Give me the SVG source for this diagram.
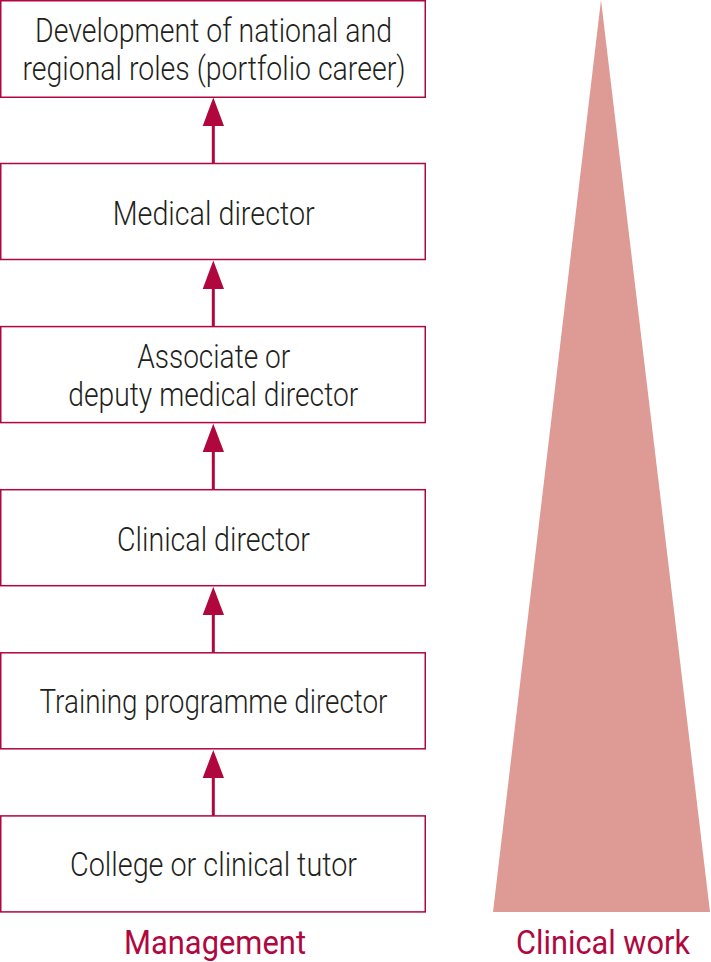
<svg xmlns="http://www.w3.org/2000/svg" width="711" height="962" viewBox="0 0 711 962">
<style>
.box{fill:#fff;stroke:#B0073F;stroke-width:1.5}
.t{font-family:Roboto,"Liberation Sans Narrow",sans-serif;font-weight:300;font-size:34px;fill:#231F20;text-anchor:middle}
.lab{font-family:Roboto,"Liberation Sans Narrow",sans-serif;font-weight:400;font-size:33px;fill:#B0073F;text-anchor:middle}
.ln{stroke:#B0073F;stroke-width:3;fill:none}
.ah{fill:#B0073F}
</style>
<rect width="711" height="962" fill="#fff"/>
<polygon id="clinical-triangle" points="601,0 710,912 493,912" fill="#DE9A95"/>
<g id="connectors">
<line class="ln" x1="213.3" y1="163.5" x2="213.3" y2="124"/>
<polygon class="ah" points="213.3,97.5 224,126 202.7,126"/>
<line class="ln" x1="213.3" y1="326.6" x2="213.3" y2="287"/>
<polygon class="ah" points="213.3,260.6 224,289 202.7,289"/>
<line class="ln" x1="213.3" y1="489.7" x2="213.3" y2="450"/>
<polygon class="ah" points="213.3,423.7 224,452 202.7,452"/>
<line class="ln" x1="213.3" y1="652.8" x2="213.3" y2="613"/>
<polygon class="ah" points="213.3,586.8 224,615 202.7,615"/>
<line class="ln" x1="213.3" y1="815.9" x2="213.3" y2="776"/>
<polygon class="ah" points="213.3,749.9 224,778 202.7,778"/>
</g>
<g id="node-development">
<rect class="box" x="0.75" y="0.75" width="424.5" height="96.5"/>
<text class="t" x="213.5" y="41.7" textLength="357" lengthAdjust="spacingAndGlyphs">Development of national and</text>
<text class="t" x="214" y="80" textLength="383" lengthAdjust="spacingAndGlyphs">regional roles (portfolio career)</text>
</g>
<g id="node-medical-director">
<rect class="box" x="0.75" y="163.5" width="424.5" height="96"/>
<text class="t" x="213.7" y="225" textLength="202" lengthAdjust="spacingAndGlyphs">Medical director</text>
</g>
<g id="node-associate">
<rect class="box" x="0.75" y="326.6" width="424.5" height="96"/>
<text class="t" x="213.7" y="367.7" textLength="153" lengthAdjust="spacingAndGlyphs">Associate or</text>
<text class="t" x="213.3" y="406" textLength="290" lengthAdjust="spacingAndGlyphs">deputy medical director</text>
</g>
<g id="node-clinical-director">
<rect class="box" x="0.75" y="489.7" width="424.5" height="96"/>
<text class="t" x="213.5" y="551" textLength="193" lengthAdjust="spacingAndGlyphs">Clinical director</text>
</g>
<g id="node-training">
<rect class="box" x="0.75" y="652.8" width="424.5" height="96"/>
<text class="t" x="213.5" y="712.7" textLength="348" lengthAdjust="spacingAndGlyphs">Training programme director</text>
</g>
<g id="node-college">
<rect class="box" x="0.75" y="815.9" width="424.5" height="96"/>
<text class="t" x="213.5" y="876" textLength="287" lengthAdjust="spacingAndGlyphs">College or clinical tutor</text>
</g>
<text class="lab" x="215" y="954" textLength="182" lengthAdjust="spacingAndGlyphs">Management</text>
<text class="lab" x="603" y="954" textLength="174" lengthAdjust="spacingAndGlyphs">Clinical work</text>
</svg>
